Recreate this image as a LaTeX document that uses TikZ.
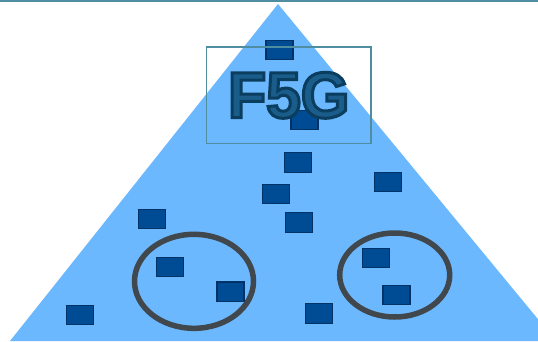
\documentclass[tikz,border=0pt]{standalone}
\usepackage{fontspec}
\setmainfont{Liberation Sans}
\newfontfamily\labelfont{Liberation Sans}[FakeStretch=0.96]
% stroked outline of the label letters
\newcommand\outlined[1]{\special{pdf:literal direct 2 Tr 3 w 0.04 0.24 0.37 RG}#1\special{pdf:literal direct 0 Tr}}

\definecolor{skyblue}{RGB}{108,184,255}
\definecolor{blockblue}{RGB}{0,76,148}
\definecolor{blockedge}{RGB}{0,50,102}
\definecolor{ringgray}{RGB}{64,72,78}
\definecolor{frameteal}{RGB}{78,142,160}
\definecolor{textblue}{RGB}{26,92,138}

\begin{document}
\begin{tikzpicture}[x=1pt, y=-1pt,
	block/.style={draw=blockedge, fill=blockblue, line width=1.2pt,
		minimum width=27pt, minimum height=19.5pt, inner sep=0pt},
	ring/.style={draw=ringgray, line width=5.5pt}]
	\useasboundingbox (0,0) rectangle (538,341);

	% pyramid
	\begin{scope}
	  \clip (0,0) rectangle (538,341);
	  \fill [skyblue] (278,4) -- (10,341) -- (556,341) -- cycle;
	\end{scope}
	\draw [frameteal, line width=2pt] (0,1) -- (538,1);

	% blocks
	\foreach \p [count=\i] in {(279.5,50), (304.5,120), (298,162.5), (276,194),
		(299,222.5), (388,182), (152,219), (170,267), (230.5,291.7),
		(376,258), (396.5,295), (80,315), (319,313.5)}
	  \node [block] (b\i) at \p {};

	% groups
	\draw [ring] (194,281.3) ellipse [x radius=59.5pt, y radius=47pt];
	\draw [ring] (394.7,275) ellipse [x radius=55pt, y radius=42pt];

	% label
	\node [draw=frameteal, line width=1.5pt, minimum width=164.5pt,
		minimum height=96.5pt, inner sep=0pt, text=textblue,
		font=\fontsize{65}{65}\labelfont\bfseries] (label) at (288.7,95.3)
		{\outlined{F5G}};
\end{tikzpicture}
\end{document}
